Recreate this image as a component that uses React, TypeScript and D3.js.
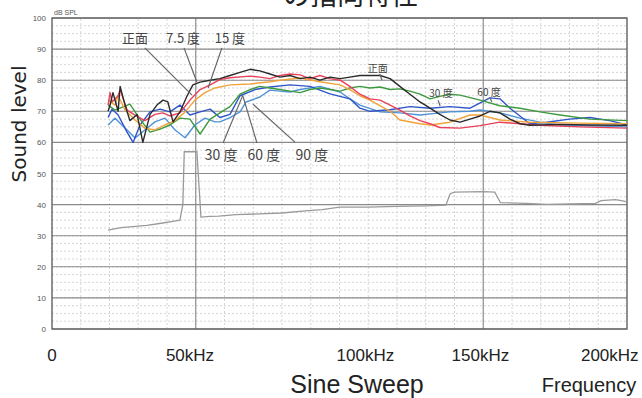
import React from 'react';
import * as d3 from 'd3';

const W = 642;
const H = 398;

// y axis (dB SPL)
const yTicks = [0, 10, 20, 30, 40, 50, 60, 70, 80, 90, 100];
// x tick labels as printed under the chart, with the kHz position where each one sits
const xTickLabels = ['0', '50kHz', '100kHz', '150kHz', '200kHz'];
const xTickAt = [0, 48, 109, 149, 194];

// [kHz, dB]
const front: [number, number][] = [
  [19.5, 70], [20.2, 72], [21.2, 76], [23, 70], [23.7, 78], [25.4, 72], [27.1, 67], [29.6, 69],
  [31.6, 60], [34.1, 69], [36.5, 72], [38.6, 73.6], [40.3, 73], [42.1, 66.6], [44.5, 69.8],
  [47, 75], [49, 78.5], [51.5, 79.4], [55, 80], [58.4, 80.5], [61.9, 81.5], [65.4, 82.5],
  [68.9, 83.5], [72.3, 83], [75.8, 82], [79.3, 81], [82.8, 81.5], [86.3, 80.5], [89.7, 81],
  [93.2, 80], [96.7, 81], [100.2, 80.5], [103.6, 81], [107.1, 81.5], [110.6, 81.5], [114.1, 81.5],
  [117.6, 80.5], [121, 78], [124.5, 75.5], [128, 73], [131.5, 71], [134.9, 69], [138.4, 67.2],
  [141.9, 66.5], [145.4, 67.5], [148.9, 68.5], [152.3, 70], [155.8, 69.5], [159.3, 67.5],
  [162.8, 66], [166.2, 65.5], [176.7, 65.8], [187.1, 65.6], [200, 65.5],
];
const deg7_5: [number, number][] = [
  [19.5, 72], [20.2, 76], [20.9, 73], [23, 75], [23.7, 77], [26.1, 70.4], [28.9, 68.8], [32.3, 67],
  [35.8, 69], [38.6, 69.5], [41, 68.5], [44.5, 69.5], [48, 73.6], [51.5, 77], [55, 78.5],
  [58.4, 80.2], [61.9, 80.8], [68.9, 81.3], [72.3, 81], [75.8, 80.5], [79.3, 81.5], [82.8, 82],
  [86.3, 81.7], [89.7, 80.5], [93.2, 81.5], [96.7, 80.5], [100.2, 80], [103.6, 78], [107.1, 75.5],
  [110.6, 74], [114.1, 73.6], [117.6, 72], [121, 70.4], [124.5, 68.5], [128, 67], [131.5, 66],
  [134.9, 64.8], [141.9, 64.6], [148.9, 65.4], [155.8, 66.5], [162.8, 66], [169.7, 65.5],
  [183.6, 65], [200, 64.6],
];
const deg15: [number, number][] = [
  [19.5, 73.6], [21.9, 72], [23, 75], [25.4, 70.4], [28.9, 67.2], [32.3, 64.6], [35.8, 64],
  [39.3, 65.6], [42.8, 67], [46.3, 69.8], [49.7, 73.6], [53.2, 76], [56.7, 77.5], [61.9, 78.5],
  [68.9, 78.8], [75.8, 79.5], [79.3, 80], [86.3, 80.7], [93.2, 79.5], [100.2, 78.5], [103.6, 77],
  [107.1, 75], [110.6, 73.6], [117.6, 70], [121, 67.2], [128, 66], [131.5, 65.6], [138.4, 66.5],
  [145.4, 68.8], [148.9, 68.8], [155.8, 67.2], [166.2, 66.5], [183.6, 66.2], [200, 66],
];
const deg30: [number, number][] = [
  [19.5, 72], [21.9, 70.4], [27.1, 72.3], [30.6, 67.5], [34.1, 63.3], [37.6, 64.3], [41, 65.6],
  [44.5, 67.8], [48, 67.5], [51.5, 62.7], [55, 67.5], [58.4, 69.5], [61.9, 71.5], [65.4, 75.5],
  [68.9, 77], [72.3, 78], [75.8, 77.5], [79.3, 77], [82.8, 76.5], [86.3, 76], [89.7, 77],
  [93.2, 77.5], [96.7, 77], [100.2, 76.5], [103.6, 77.5], [107.1, 78], [110.6, 77.5], [114.1, 77.8],
  [117.6, 77], [121, 77.2], [124.5, 76.5], [128, 75.5], [131.5, 74], [134.9, 74.8], [138.4, 75.5],
  [141.9, 75.2], [148.9, 73.6], [155.8, 71.8], [162.8, 71], [169.7, 69.8], [176.7, 68.8],
  [187.1, 67.5], [200, 67],
];
const deg60: [number, number][] = [
  [19.5, 68], [20.9, 70.7], [23, 68.8], [26.1, 63.3], [28.2, 60], [30.6, 65.6], [34.1, 69.8],
  [37.6, 70.7], [41, 69.8], [44.5, 72], [48, 68.8], [51.5, 69.8], [55, 70.7], [58.4, 68],
  [61.9, 69], [65.4, 75], [70.6, 77], [75.8, 77.8], [82.8, 78.5], [89.7, 78], [96.7, 75.6],
  [103.6, 74], [107.1, 71], [110.6, 70], [117.6, 70.5], [124.5, 71.5], [131.5, 71], [138.4, 71.5],
  [145.4, 71], [152.3, 74.3], [155.8, 74], [159.3, 71], [166.2, 66], [172, 66.5], [180, 67.5],
  [187.1, 68], [194, 67], [200, 65.6],
];
const deg90: [number, number][] = [
  [19.5, 65.6], [21.9, 67.8], [25.4, 64.6], [28.9, 61.4], [32.3, 64], [35.8, 66.6], [39.3, 67.8],
  [42.8, 64], [46.3, 61.5], [49.7, 65.6], [53.2, 67.8], [56.7, 66.6], [58.4, 66.6], [61.9, 68],
  [65.4, 69.8], [67.5, 73], [72.3, 74.6], [75.8, 76.8], [79.3, 76.5], [82.8, 76.2], [86.3, 77],
  [93.2, 78], [100.2, 76.2], [103.6, 74], [107.1, 72], [114.1, 69.8], [121, 69.5], [128, 68.8],
  [134.9, 69.5], [138.4, 69.8], [145.4, 70], [148.9, 70.4], [155.8, 69.5], [162.8, 67.8],
  [169.7, 66.5], [176.7, 65.6], [200, 65],
];
// gray trace (distortion / floor)
const floor: [number, number][] = [
  [19.5, 31.8], [24, 32.6], [28, 32.9], [33, 33.3], [38, 34], [42, 34.6], [44.5, 35], [45.5, 40],
  [46, 57], [50.4, 57], [51.2, 45], [51.8, 36], [55, 36.2], [58, 36.3], [64, 36.8], [72, 37],
  [80, 37.3], [88, 38], [94, 38.4], [100, 39.2], [110, 39.2], [120, 39.4], [130, 39.6], [137, 39.8],
  [138.5, 43.5], [140, 44], [150, 44.2], [154, 44], [156, 40.6], [165, 40.4], [172, 40.1],
  [180, 40.2], [189, 40.4], [191, 41.3], [196, 41.6], [198, 41.3], [200, 40.9],
];

const series = [
  { data: deg90, color: '#4f93d6' },
  { data: deg60, color: '#2f55c8' },
  { data: deg30, color: '#3e9a3e' },
  { data: deg15, color: '#f0a33a' },
  { data: deg7_5, color: '#e8415a' },
  { data: front, color: '#2a2a2a' },
];

// annotations: [text, x kHz, y dB, size], leaders: [x1, y1, x2, y2] in data units
const labels: [string, number, number, number][] = [
  ['正面', 28.9, 92, 13], ['7.5 度', 45.6, 92, 13], ['15 度', 61.9, 92, 13],
  ['30 度', 58.8, 54.3, 14], ['60 度', 73.7, 54.3, 14], ['90 度', 90.4, 54.3, 14],
  ['正面', 113.3, 82.6, 10], ['30 度', 135.3, 74.6, 10], ['60 度', 152, 75, 10],
];
const leaders: [number, number, number, number][] = [
  [32.3, 90.4, 48.7, 75.2], [45.9, 90.4, 50.4, 79.4], [59.1, 90.4, 54.3, 77.5],
  [59.5, 59.8, 66.4, 75.2], [71.3, 59.8, 66.4, 74.9], [84.5, 60.1, 69.9, 72.3],
  [114, 82, 114.8, 80], [134.3, 73.6, 135, 71.7], [152.3, 74.4, 153, 73],
];

const x = d3.scaleLinear().domain([0, 200]).range([52, 627]);
const y = d3.scaleLinear().domain([0, 100]).range([329, 18]);

const line = d3.line<[number, number]>()
  .x(d => x(d[0]))
  .y(d => y(d[1]));

export default function App() {
  const minorX = d3.range(0, 201, 10);
  const minorY = d3.range(0, 100.1, 2.5);
  const sans = 'Liberation Sans, Arial, sans-serif';
  return (
    <svg width={W} height={H} style={{ position: 'absolute', left: 0, top: 0, background: '#fff' }}>
      <text x={283} y={5} fontSize={27} fill="#222" fontFamily="Noto Sans CJK JP">の指向特性</text>

      {/* grid */}
      {minorY.map(v => (
        <line key={'my' + v} x1={x(0)} x2={x(200)} y1={y(v)} y2={y(v)}
          stroke="#bbb" strokeWidth={0.6} strokeDasharray="2,2" />
      ))}
      {minorX.map(v => (
        <line key={'mx' + v} x1={x(v)} x2={x(v)} y1={y(0)} y2={y(100)}
          stroke="#bbb" strokeWidth={0.6} strokeDasharray="2,2" />
      ))}
      {yTicks.map(v => (
        <line key={'y' + v} x1={x(0)} x2={x(200)} y1={y(v)} y2={y(v)} stroke="#8a8a8a" strokeWidth={1.1} />
      ))}
      {[50, 150].map(v => (
        <line key={'x' + v} x1={x(v)} x2={x(v)} y1={y(0)} y2={y(100)} stroke="#888" strokeWidth={1.1} />
      ))}
      <rect x={x(0)} y={y(100)} width={x(200) - x(0)} height={y(0) - y(100)}
        fill="none" stroke="#666" strokeWidth={1.4} />

      {yTicks.map(v => (
        <text key={'yt' + v} x={46} y={y(v) + 3} fontSize={8} fill="#555" textAnchor="end"
          fontFamily={sans}>{v}</text>
      ))}
      <text x={54} y={15} fontSize={7} fill="#555" fontFamily={sans}>dB SPL</text>

      {/* traces */}
      <path d={line(floor) || ''} fill="none" stroke="#9a9a9a" strokeWidth={1.3} />
      {series.map((s, i) => (
        <path key={i} d={line(s.data) || ''} fill="none" stroke={s.color} strokeWidth={1.4}
          strokeLinejoin="round" />
      ))}

      {/* annotations */}
      {leaders.map((l, i) => (
        <line key={'l' + i} x1={x(l[0])} y1={y(l[1])} x2={x(l[2])} y2={y(l[3])}
          stroke="#666" strokeWidth={1.2} />
      ))}
      {labels.map((l, i) => (
        <text key={'t' + i} x={x(l[1])} y={y(l[2])} fontSize={l[3]} fill="#444" textAnchor="middle"
          fontFamily="Noto Sans CJK JP">{l[0]}</text>
      ))}

      {/* axis texts */}
      {xTickLabels.map((t, i) => (
        <text key={'xt' + i} x={x(xTickAt[i])} y={361} fontSize={17} fill="#222" textAnchor="middle"
          fontFamily={sans}>{t}</text>
      ))}
      <text transform="translate(26,124) rotate(-90)" fontSize={20} fill="#222" textAnchor="middle"
        fontFamily="DejaVu Sans, sans-serif">Sound level</text>
      <text x={357} y={393} fontSize={25} fill="#222" textAnchor="middle" fontFamily={sans}>Sine Sweep</text>
      <text x={589} y={392} fontSize={20} fill="#222" textAnchor="middle" fontFamily={sans}>Frequency</text>
    </svg>
  );
}
